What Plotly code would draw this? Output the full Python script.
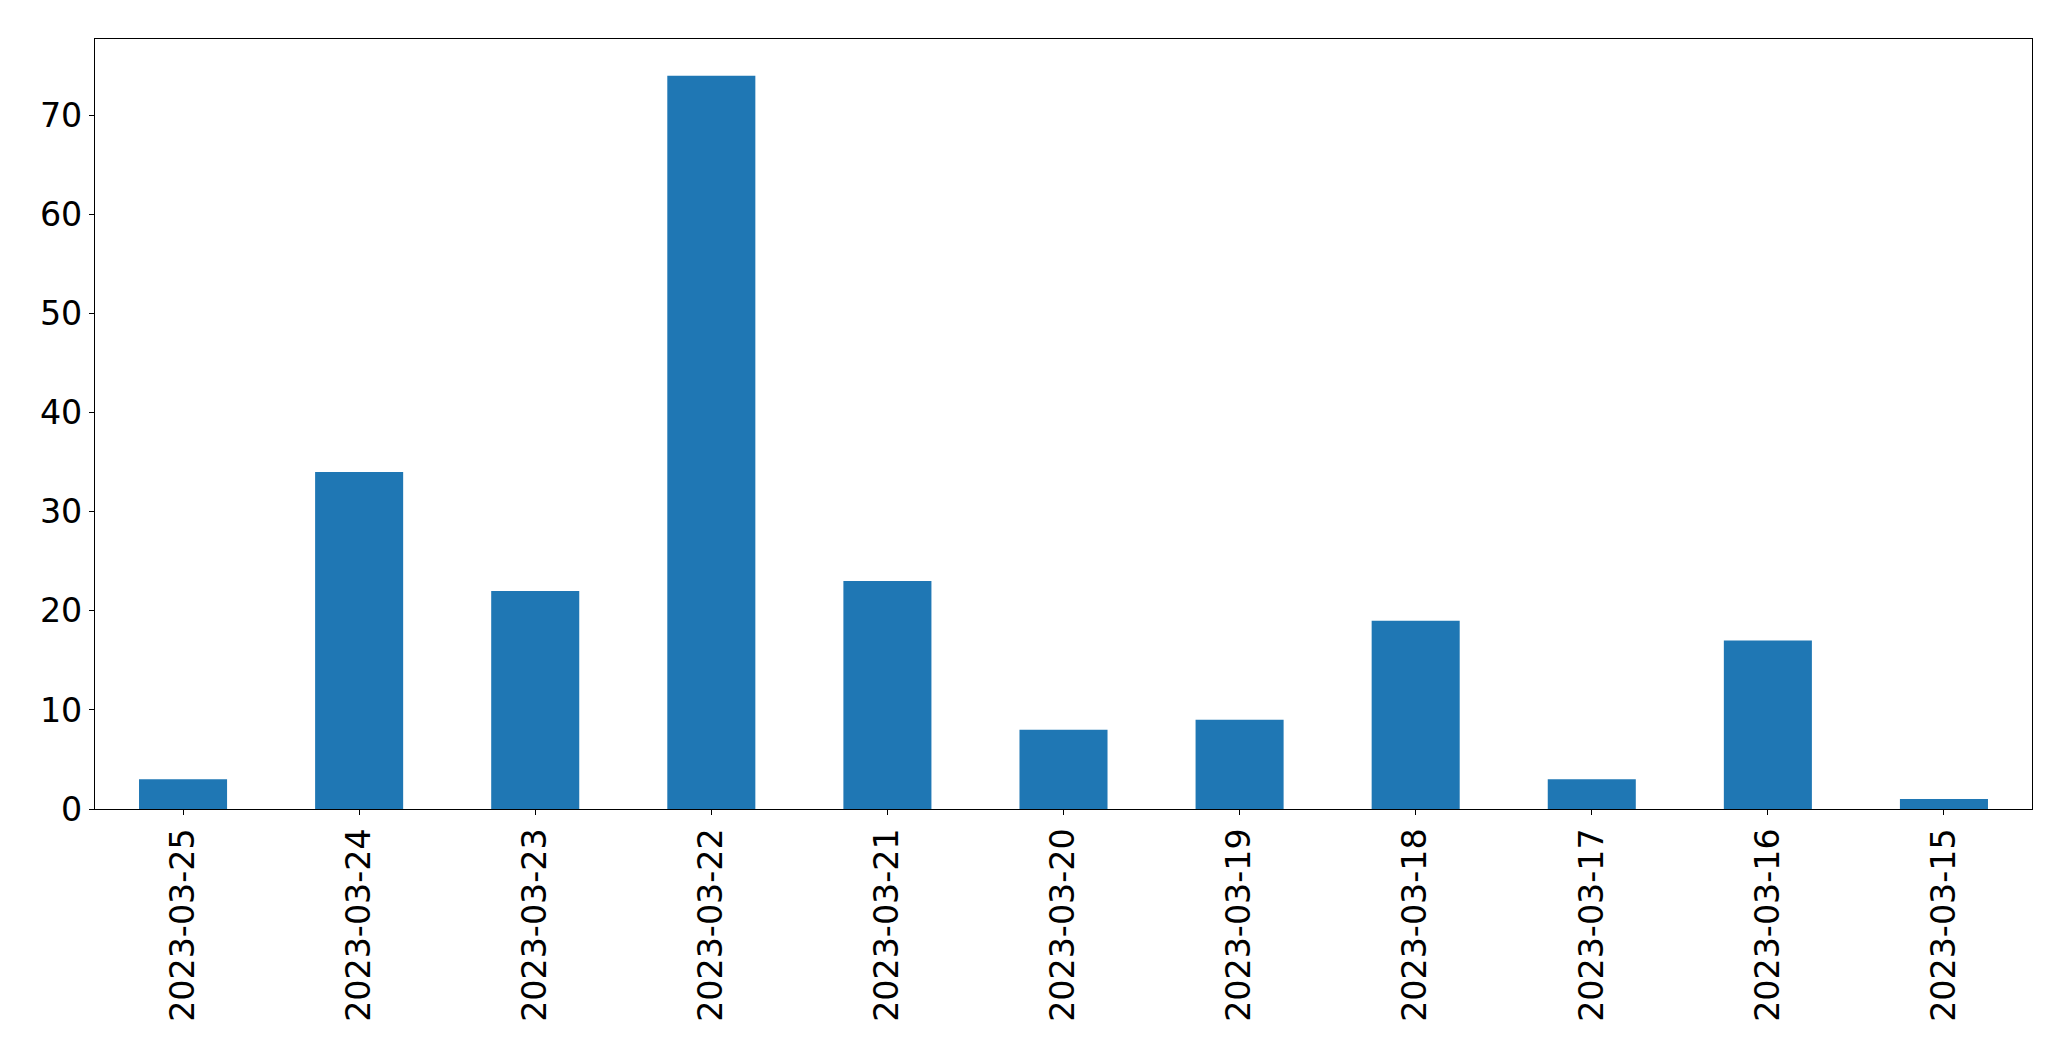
import plotly.graph_objects as go

dates = ["2023-03-25", "2023-03-24", "2023-03-23", "2023-03-22", "2023-03-21",
         "2023-03-20", "2023-03-19", "2023-03-18", "2023-03-17", "2023-03-16",
         "2023-03-15"]
counts = [3, 34, 22, 74, 23, 8, 9, 19, 3, 17, 1]

fig = go.Figure(go.Bar(x=dates, y=counts, marker=dict(color="#1f77b4", line=dict(width=0))))

font = dict(family="DejaVu Sans", size=33.3, color="black")
# page body has an 8px margin, so the figure is offset by 8px
fig.update_layout(
    template="none",
    width=2063, height=1053,
    margin=dict(l=86.7, r=39.3, t=31.3, b=252, autoexpand=False),
    paper_bgcolor="white", plot_bgcolor="white",
    bargap=0.5, showlegend=False, font=font,
)
fig.update_xaxes(
    type="category", range=[-0.5, 10.5], tickangle=-90, automargin=False,
    showline=True, mirror=True, linecolor="black", linewidth=1.1,
    ticks="outside", ticklen=5, tickwidth=1.1, tickcolor="black",
    showgrid=False, tickfont=font,
)
fig.update_yaxes(
    range=[0, 77.7], dtick=10, tick0=0, automargin=False,
    showline=True, mirror=True, linecolor="black", linewidth=1.1,
    ticks="outside", ticklen=5, tickwidth=1.1, tickcolor="black",
    showgrid=False, zeroline=False, tickfont=font,
)
fig.write_html("out.html")
